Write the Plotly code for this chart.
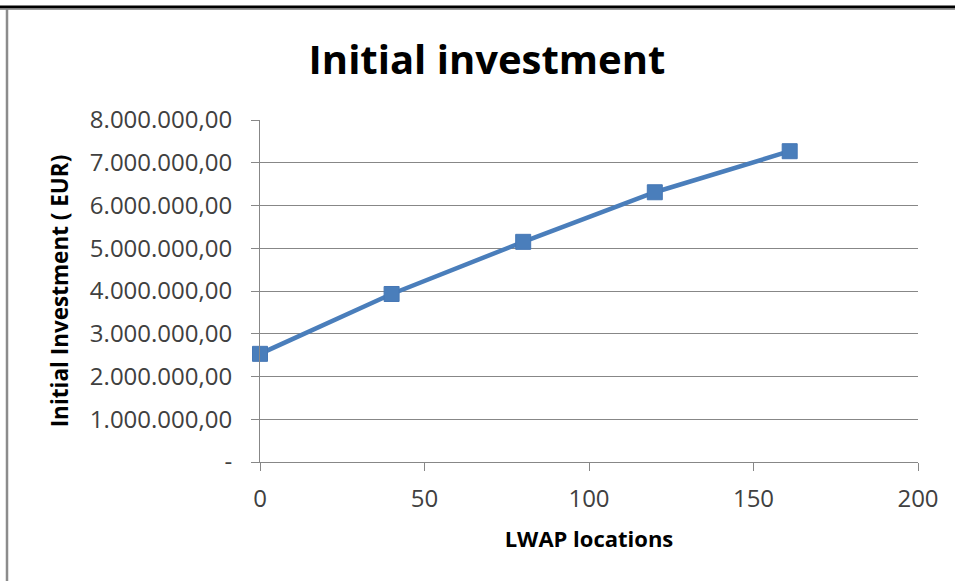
import plotly.graph_objects as go

# ---- data ----
lwap_locations = [0, 40, 80, 120, 161]
initial_investment = [2530000, 3930000, 5150000, 6310000, 7270000]
y_tick_values = [0, 1000000, 2000000, 3000000, 4000000, 5000000, 6000000, 7000000, 8000000]
x_tick_values = [0, 50, 100, 150, 200]


def eur(v):
    if v == 0:
        return "-"
    s = f"{v:,.2f}"
    return s.replace(",", "X").replace(".", ",").replace("X", ".")


y_tick_text = [eur(v) for v in y_tick_values]

W, H = 955, 581
ML, MR, MT, MB = 260, 37, 120, 119
PW, PH = W - ML - MR, H - MT - MB


def px(x):
    return (x - ML) / PW


def py(y):
    return (H - MB - y) / PH


FONT = "Open Sans"
BLUE = "#4A7EBB"
GRID = "#878787"

fig = go.Figure()
fig.add_trace(go.Scatter(
    x=lwap_locations, y=initial_investment, mode="lines+markers",
    line=dict(color=BLUE, width=4.5),
    marker=dict(symbol="square", size=15, color=BLUE, line=dict(color="#4677B5", width=1)),
    showlegend=False, hoverinfo="skip", cliponaxis=False,
))

fig.update_layout(
    width=W, height=H,
    margin=dict(l=ML, r=MR, t=MT, b=MB),
    paper_bgcolor="white", plot_bgcolor="white",
    font=dict(family=FONT, color="#404040"),
    title=dict(text="<b>Initial investment</b>", x=px(487), xref="paper", xanchor="center",
               y=1 - 60 / H, yanchor="middle",
               font=dict(family=FONT, size=40, color="black")),
    xaxis=dict(
        range=[0, 200], tickvals=x_tick_values, ticktext=[str(v) for v in x_tick_values],
        showgrid=False, zeroline=False,
        showline=True, linecolor=GRID, linewidth=1,
        ticks="outside", ticklen=8, tickcolor=GRID, tickwidth=1,
        tickfont=dict(family=FONT, size=24, color="#404040"),
        ticklabelstandoff=7,
        title=dict(text="<b>LWAP locations</b>", font=dict(family=FONT, size=22, color="black"), standoff=18),
    ),
    yaxis=dict(
        range=[0, 8000000], tickvals=y_tick_values, ticktext=y_tick_text,
        showgrid=True, gridcolor=GRID, gridwidth=1, zeroline=False,
        showline=True, linecolor=GRID, linewidth=1,
        ticks="outside", ticklen=8, tickcolor=GRID, tickwidth=1,
        tickfont=dict(family=FONT, size=24, color="#404040"),
        ticklabelstandoff=14,
        title=dict(text="<b>Initial Investment ( EUR)</b>", font=dict(family=FONT, size=22.5, color="black"), standoff=14),
    ),
    shapes=[
        # top frame edge
        dict(type="line", xref="paper", yref="paper", x0=px(0), x1=px(W), y0=py(7), y1=py(7),
             line=dict(color="black", width=3)),
        dict(type="line", xref="paper", yref="paper", x0=px(0), x1=px(W), y0=py(9.5), y1=py(9.5),
             line=dict(color="#9a9a9a", width=1)),
        # left frame edge
        dict(type="line", xref="paper", yref="paper", x0=px(7), x1=px(7), y0=py(9), y1=py(H),
             line=dict(color="#8c8c8c", width=2.5)),
    ],
)

fig.write_html("out.html")
